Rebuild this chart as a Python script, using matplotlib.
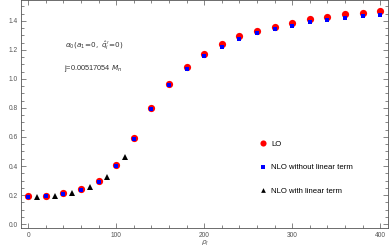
import matplotlib.pyplot as plt
from matplotlib.ticker import MultipleLocator

plt.rcParams['font.family'] = ['Liberation Sans', 'DejaVu Sans']
plt.rcParams['mathtext.fontset'] = 'dejavusans'

# LO and NLO (without linear term) share the same grid
rho = [0, 20, 40, 60, 80, 100, 120, 140, 160, 180, 200,
       220, 240, 260, 280, 300, 320, 340, 360, 380, 400]
lo = [0.193, 0.195, 0.216, 0.241, 0.300, 0.410, 0.595, 0.800, 0.968, 1.085, 1.175,
      1.240, 1.297, 1.331, 1.360, 1.389, 1.410, 1.430, 1.447, 1.457, 1.467]
nlo_without = [0.188, 0.190, 0.210, 0.235, 0.293, 0.400, 0.588, 0.790, 0.955, 1.071, 1.159,
               1.223, 1.276, 1.315, 1.343, 1.368, 1.390, 1.407, 1.423, 1.434, 1.441]

# NLO with linear term only for small rho
rho_lin = [10, 30, 50, 70, 90, 110]
nlo_with = [0.186, 0.193, 0.216, 0.253, 0.326, 0.464]

fig = plt.figure(figsize=(3.9, 2.49), dpi=100)
ax = fig.add_axes([0.054, 0.084, 0.941, 0.914])

ax.plot(rho, lo, 'o', color='#ff0000', markersize=5.2, markeredgewidth=0, label='LO')
ax.plot(rho, nlo_without, 's', color='#0000ff', markersize=3.2, markeredgewidth=0,
        label='NLO without linear term')
ax.plot(rho_lin, nlo_with, '^', color='black', markersize=4, markeredgewidth=0,
        label='NLO with linear term')

ax.set_xlim(-8, 409)
ax.set_ylim(-0.028, 1.541)

ax.xaxis.set_major_locator(MultipleLocator(100))
ax.xaxis.set_minor_locator(MultipleLocator(20))
ax.yaxis.set_major_locator(MultipleLocator(0.2))
ax.yaxis.set_minor_locator(MultipleLocator(0.05))
ax.yaxis.set_major_formatter(lambda v, p: f'{v:.1f}')

for s in ax.spines.values():
    s.set_color('#555555')
    s.set_linewidth(0.6)
ax.tick_params(which='both', direction='in', top=True, right=True,
               color='#555555', width=0.5, labelsize=4.8, labelcolor='#555555', pad=2.5)
ax.tick_params(which='major', length=3.5)
ax.tick_params(which='minor', length=2)

ax.set_xlabel(r'$\rho_l$', fontsize=5.2, color='#555555', labelpad=0)

# annotations (positions in figure pixels from the top-left)
W, H = 390, 249
fig.text(65 / W, 1 - 46 / H, r"$\alpha_0(a_1\!=\!0,\ \hat{q}_i^{\,\prime}\!=\!0)$",
         fontsize=5.2, color='#333333', va='center', ha='left')
fig.text(64 / W, 1 - 69 / H, r"j=0.00517054 $M_n$",
         fontsize=5.3, color='#333333', va='center', ha='left')

ax.legend(loc='upper left', bbox_to_anchor=(0.64, 0.40), frameon=False,
          fontsize=5.6, labelspacing=2.1, handletextpad=0.6, handlelength=1.0,
          borderaxespad=0, markerscale=0.85)

fig.savefig('out.png', dpi=100)
